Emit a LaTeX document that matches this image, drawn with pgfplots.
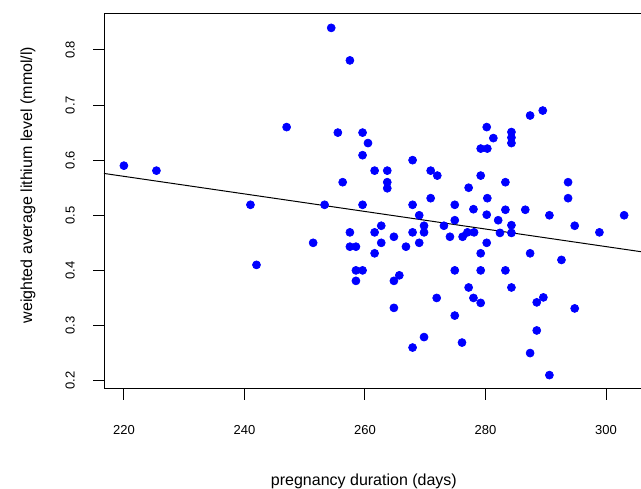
\documentclass[border=0pt]{standalone}
\usepackage{fontspec}
\setmainfont{Liberation Sans}
\usepackage{pgfplots}
\pgfplotsset{compat=1.18}

% one pixel of the reference = 0.6pt
\begin{document}
\begin{tikzpicture}
\useasboundingbox (-62.4pt,-60pt) rectangle (322.2pt,233.4pt);
\begin{axis}[
    scale only axis,
    width=322.2pt, height=225pt,
    xmin=216.7, xmax=305.8,
    ymin=0.1848, ymax=0.8652,
    axis line style={draw=none},
    clip=false,
    xtick={220,240,260,280,300},
    ytick={0.2,0.3,0.4,0.5,0.6,0.7,0.8},
    xtick pos=bottom, ytick pos=left,
    tick align=outside,
    major tick length=6.6pt,
    tick style={black, line width=0.6pt},
    /pgf/number format/assume math mode=true,
    /pgf/number format/.cd, fixed, precision=1, /pgfplots/.cd,
    tick label style={font=\fontsize{7.8}{9}\selectfont, inner sep=0pt},
    xticklabel style={anchor=north, yshift=-15pt},
    yticklabel style={rotate=90, anchor=south, yshift=10.8pt},
    label style={font=\fontsize{9.6}{11}\selectfont},
    xlabel={pregnancy duration (days)},
    ylabel={weighted average lithium level (mmol/l)},
    xlabel style={at={(axis description cs:0.484,0)}, anchor=center, yshift=-55.6pt},
    ylabel style={at={(axis description cs:0,0.544)}, anchor=center, yshift=45.6pt},
]
\draw[black, line width=0.6pt] (rel axis cs:1,0) -- (rel axis cs:0,0)
    -- (rel axis cs:0,1) -- (rel axis cs:1,1);
\addplot[black, line width=0.6pt] coordinates {(216.7,0.5759) (305.8,0.4339)};
\addplot[only marks, mark=*, mark size=2.4pt, color=blue, fill=blue] coordinates {
    (220.0,0.590) (225.4,0.581) (247.0,0.660) (241.0,0.519) (251.4,0.450)
    (242.0,0.410) (254.4,0.840) (257.5,0.781) (255.5,0.650) (259.6,0.650)
    (260.5,0.631) (259.6,0.609) (267.9,0.600) (261.6,0.581) (263.7,0.581)
    (270.9,0.581) (272.0,0.572) (256.3,0.560) (263.7,0.560) (263.7,0.549)
    (277.2,0.550) (279.2,0.572) (280.2,0.660) (281.3,0.640) (279.2,0.621)
    (280.3,0.621) (280.3,0.531) (253.3,0.519) (259.6,0.519) (267.9,0.519)
    (270.9,0.531) (274.9,0.519) (278.0,0.511) (269.0,0.500) (274.9,0.491)
    (269.8,0.481) (273.1,0.481) (262.7,0.481) (257.5,0.469) (261.6,0.469)
    (267.9,0.469) (269.8,0.469) (264.8,0.461) (274.1,0.461) (276.2,0.461)
    (277.0,0.469) (278.1,0.469) (257.5,0.443) (258.5,0.443) (262.7,0.450)
    (269.0,0.450) (266.8,0.443) (280.2,0.501) (282.1,0.491) (280.2,0.450)
    (261.6,0.431) (279.2,0.431) (258.5,0.400) (259.6,0.400) (258.5,0.381)
    (264.8,0.381) (265.7,0.391) (274.9,0.400) (279.2,0.400) (277.2,0.369)
    (271.9,0.350) (278.0,0.350) (279.2,0.341) (264.8,0.332) (274.9,0.318)
    (269.8,0.279) (267.9,0.260) (276.1,0.269) (289.5,0.690) (287.4,0.681)
    (284.3,0.651) (284.3,0.641) (284.3,0.631) (283.3,0.560) (293.7,0.560)
    (293.7,0.531) (283.3,0.510) (286.6,0.510) (290.6,0.500) (303.0,0.500)
    (284.3,0.482) (284.3,0.468) (294.8,0.481) (298.9,0.469) (287.4,0.431)
    (292.6,0.419) (283.3,0.400) (284.3,0.369) (288.5,0.342) (289.6,0.351)
    (294.8,0.331) (288.5,0.291) (287.4,0.250) (290.6,0.210) (282.4,0.468)
};
\end{axis}
\end{tikzpicture}
\end{document}
